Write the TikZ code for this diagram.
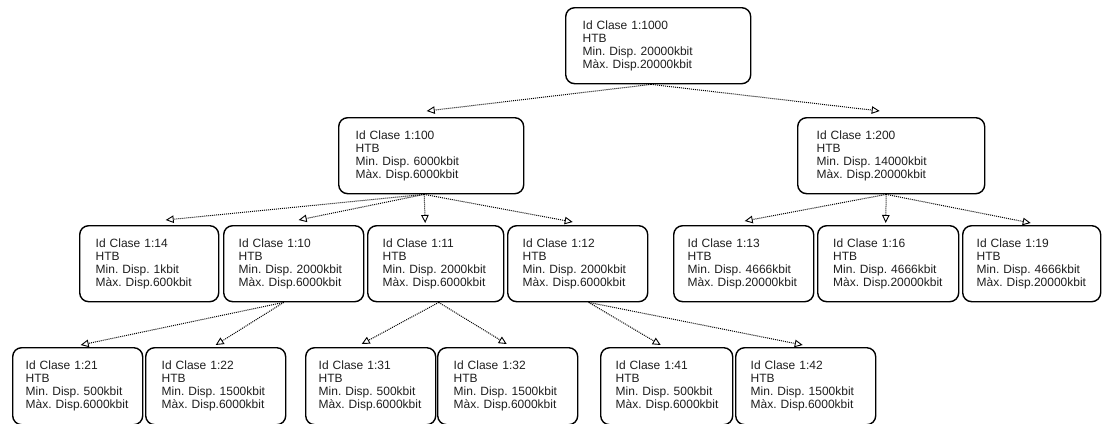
\documentclass[tikz,border=0pt]{standalone}
\usepackage{fontspec}
\setmainfont{Liberation Sans}
\usetikzlibrary{arrows.meta}

% class box: name, x, y (top-left), width, height, left padding, text
\newcommand\classbox[7]{%
  \node[cls, minimum width=#4pt, minimum height=#5pt, inner xsep=#6pt,
        text width=\dimexpr #4pt-#6pt-#6pt\relax] (#1) at (#2,#3) {#7};}

\begin{document}
\begin{tikzpicture}[x=1pt,y=-1pt,
  cls/.style={draw=black, line width=1.4pt, rounded corners=9pt, anchor=north west,
              align=left, inner ysep=0pt, text=black!88,
              font=\fontsize{12}{13}\selectfont\frenchspacing},
  link/.style={line width=1pt, dash pattern=on 1pt off 1pt,
               -{Triangle[open,length=8pt,width=7.5pt,line width=0.9pt]}}
]
\useasboundingbox (0,0) rectangle (1102,423);
\fill[white] (0,0) rectangle (1102,423);

% root class
\classbox{root}{565}{7}{185}{76}{17}{Id~Clase~1:1000\\HTB\\Min.~Disp.~20000kbit\\Màx.~Disp.20000kbit}

% second level
\classbox{n100}{338}{117}{185}{76}{17}{Id~Clase~1:100\\HTB\\Min.~Disp.~6000kbit\\Màx.~Disp.6000kbit}
\classbox{n200}{797}{117}{187}{76}{19}{Id~Clase~1:200\\HTB\\Min.~Disp.~14000kbit\\Màx.~Disp.20000kbit}

% third level
\classbox{n14}{79}{225}{139}{76}{16}{Id~Clase~1:14\\HTB\\Min.~Disp.~1kbit\\Màx.~Disp.600kbit}
\classbox{n10}{223}{225}{140}{76}{15}{Id~Clase~1:10\\HTB\\Min.~Disp.~2000kbit\\Màx.~Disp.6000kbit}
\classbox{n11}{367}{225}{136}{76}{15}{Id~Clase~1:11\\HTB\\Min.~Disp.~2000kbit\\Màx.~Disp.6000kbit}
\classbox{n12}{507}{225}{140}{76}{15}{Id~Clase~1:12\\HTB\\Min.~Disp.~2000kbit\\Màx.~Disp.6000kbit}
\classbox{n13}{673}{225}{140}{76}{14}{Id~Clase~1:13\\HTB\\Min.~Disp.~4666kbit\\Màx.~Disp.20000kbit}
\classbox{n16}{817}{225}{141}{76}{15.5}{Id~Clase~1:16\\HTB\\Min.~Disp.~4666kbit\\Màx.~Disp.20000kbit}
\classbox{n19}{962}{225}{138}{76}{14}{Id~Clase~1:19\\HTB\\Min.~Disp.~4666kbit\\Màx.~Disp.20000kbit}

% fourth level
\classbox{n21}{12}{347}{130}{77}{13}{Id~Clase~1:21\\HTB\\Min.~Disp.~500kbit\\Màx.~Disp.6000kbit}
\classbox{n22}{145}{347}{140}{77}{16}{Id~Clase~1:22\\HTB\\Min.~Disp.~1500kbit\\Màx.~Disp.6000kbit}
\classbox{n31}{305}{347}{130}{77}{13}{Id~Clase~1:31\\HTB\\Min.~Disp.~500kbit\\Màx.~Disp.6000kbit}
\classbox{n32}{437}{347}{140}{77}{16}{Id~Clase~1:32\\HTB\\Min.~Disp.~1500kbit\\Màx.~Disp.6000kbit}
\classbox{n41}{600}{347}{132}{77}{15}{Id~Clase~1:41\\HTB\\Min.~Disp.~500kbit\\Màx.~Disp.6000kbit}
\classbox{n42}{735}{347}{140}{77}{15}{Id~Clase~1:42\\HTB\\Min.~Disp.~1500kbit\\Màx.~Disp.6000kbit}

% parent -> child links
\draw[link] ([xshift=-7pt]root.south) -- ([xshift=-4.5pt,yshift=6pt]n100.north);
\draw[link] ([xshift=-7pt]root.south) -- ([xshift=-11.5pt,yshift=6pt]n200.north);

\draw[link] ([xshift=-7pt]n100.south) -- ([xshift=16.5pt,yshift=5pt]n14.north);
\draw[link] ([xshift=-7pt]n100.south) -- ([xshift=5pt,yshift=5pt]n10.north);
\draw[link] ([xshift=-7pt]n100.south) -- ([xshift=-10.5pt,yshift=2pt]n11.north);
\draw[link] ([xshift=-7pt]n100.south) -- ([xshift=-5pt,yshift=3pt]n12.north);

\draw[link] ([xshift=-5pt]n200.south) -- ([xshift=1pt,yshift=4pt]n13.north);
\draw[link] ([xshift=-5pt]n200.south) -- ([xshift=-2.5pt,yshift=2pt]n16.north);
\draw[link] ([xshift=-5pt]n200.south) -- ([xshift=-1pt,yshift=2pt]n19.north);

\draw[link] ([xshift=-10pt]n10.south) -- ([xshift=3pt,yshift=2pt]n21.north);
\draw[link] ([xshift=-10pt]n10.south) -- ([yshift=2pt]n22.north);

\draw[link] ([xshift=3pt]n11.south) -- ([xshift=-9pt,yshift=3pt]n31.north);
\draw[link] ([xshift=3pt]n11.south) -- ([xshift=-1pt,yshift=3pt]n32.north);

\draw[link] ([xshift=11pt]n12.south) -- ([xshift=-6pt,yshift=2pt]n41.north);
\draw[link] ([xshift=11pt]n12.south) -- ([xshift=-3pt,yshift=2pt]n42.north);
\end{tikzpicture}
\end{document}
